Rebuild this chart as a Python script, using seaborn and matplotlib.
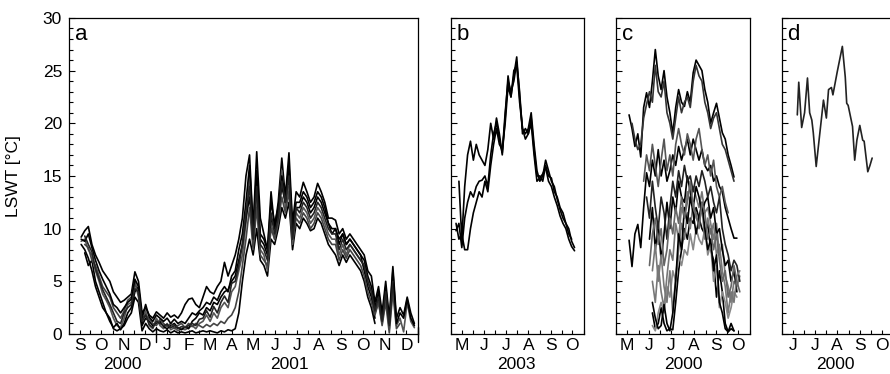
import numpy as np
import pandas as pd
import matplotlib
matplotlib.use("Agg")
import matplotlib.pyplot as plt
import matplotlib.dates as mdates
from matplotlib.ticker import MultipleLocator, FuncFormatter
import seaborn as sns

sns.set_style("ticks")
plt.rcParams['font.family'] = ['Liberation Sans', 'DejaVu Sans']
plt.rcParams['text.color'] = 'black'
plt.rcParams['xtick.color'] = 'black'
plt.rcParams['ytick.color'] = 'black'
plt.rcParams['axes.labelcolor'] = 'black'

nan = np.nan

# ---- panel a: Sep 2000 - Dec 2001, 5-day samples ----
a_dates = pd.date_range("2000-09-18", periods=94, freq="5D")
a_s1 = [9.2, 9.8, 10.2, 8.5, 7.5, 6.8, 6.0, 5.5, 5.0, 4.0,
        3.5, 3.0, 3.2, 3.5, 3.8, 5.9, 5.0, 2.0, 2.5, 1.8,
        1.5, 2.1, 1.8, 1.5, 2.0, 1.6, 1.8, 1.5, 2.0, 2.8,
        3.3, 3.4, 2.8, 2.5, 3.5, 4.5, 4.0, 3.8, 4.5, 5.0,
        6.8, 5.5, 6.5, 7.5, 9.0, 11.0, 15.0, 17.0, 10.0, 17.3,
        11.0, 9.5, 8.0, 13.5, 10.0, 12.5, 16.7, 13.0, 17.2, 10.5,
        13.5, 13.0, 14.4, 13.5, 12.5, 13.0, 14.3, 13.5, 12.5, 11.0,
        11.0, 10.8, 9.5, 10.0, 9.0, 9.5, 9.0, 8.5, 8.0, 7.5,
        6.0, 5.5, 3.0, 4.5, 2.0, 5.0, 1.5, 6.4, 1.5, 2.5,
        1.8, 3.5, 2.0, 1.0]
a_s2 = [nan, 7.7, 6.5, 7.0, 5.0, 4.0, 3.0, 2.0, 1.5, 0.5,
        0.3, 0.5, 0.8, 1.5, 2.0, 3.5, 3.0, 0.3, 1.0, 0.5,
        0.2, 0.5, 0.3, 0.2, 0.4, 0.1, 0.3, 0.1, 0.2, 0.1,
        0.2, 0.3, 0.1, 0.2, 0.3, 0.2, 0.3, 0.2, 0.1, 0.3,
        0.2, 0.4, 0.3, 0.5, 2.0, 5.0, 7.5, 9.0, 7.5, 10.0,
        7.0, 6.5, 5.5, 9.0, 8.5, 10.0, 12.0, 11.0, 12.5, 8.0,
        10.5, 10.0, 11.0, 10.5, 9.8, 10.0, 11.0, 10.5, 9.5, 8.5,
        8.0, 7.5, 6.5, 7.5, 6.8, 7.5, 7.0, 6.5, 6.0, 5.0,
        3.5, 2.5, 1.0, nan, nan, nan, nan, nan, nan, nan,
        nan, nan, nan, nan]
a_s3 = [8.8, 9.0, 8.0, 7.5, 6.0, 5.0, 3.8, 3.2, 2.5, 1.5,
        0.8, 0.6, 1.5, 2.8, 3.0, 4.8, 3.8, 1.0, 2.2, 0.8,
        0.5, 1.5, 0.8, 0.5, 1.0, 0.4, 0.6, 0.3, 0.5, 0.4,
        0.6, 0.8, 0.5, 1.0, 1.2, 1.8, 1.2, 2.0, 1.5, 2.5,
        3.0, 2.5, 4.0, 4.5, 6.0, 7.5, 10.5, 15.0, 8.5, 13.0,
        8.0, 7.5, 6.0, 10.5, 9.0, 11.5, 15.5, 12.0, 14.0, 8.5,
        11.5, 11.0, 12.0, 11.5, 10.5, 11.0, 12.0, 11.5, 10.5, 9.5,
        9.0, 9.0, 7.5, 8.5, 7.5, 8.5, 8.0, 7.5, 7.0, 6.5,
        5.0, 4.0, 2.0, 3.0, 1.0, 3.5, 0.5, 4.5, 0.8, 1.5,
        0.2, 3.0, 1.2, 0.6]
a_s4 = [8.5, 8.0, 7.2, 6.0, 4.5, 3.5, 2.5, 2.0, 1.2, 0.6,
        1.0, 0.4, 1.0, 2.0, 2.5, 4.0, 4.5, 0.8, 1.5, 1.2,
        0.8, 1.0, 1.2, 0.7, 0.5, 0.8, 1.0, 0.6, 0.4, 0.7,
        0.5, 1.2, 1.5, 2.0, 1.8, 2.5, 2.2, 3.0, 2.8, 3.5,
        4.0, 4.2, 5.0, 5.5, 7.0, 8.5, 11.0, 13.0, 9.5, 14.5,
        9.0, 8.5, 7.5, 11.0, 10.0, 11.5, 14.0, 12.5, 15.5, 9.5,
        12.0, 12.0, 13.0, 12.5, 11.5, 12.0, 13.0, 12.5, 11.5, 10.5,
        9.5, 10.0, 8.5, 9.5, 8.5, 9.0, 8.5, 8.0, 7.5, 6.0,
        4.5, 3.5, 1.5, nan, nan, nan, nan, nan, nan, nan,
        nan, nan, nan, nan]
a_s5 = [nan, 8.5, 8.2, 7.0, 6.5, 5.5, 4.5, 4.0, 3.5, 2.5,
        2.0, 1.5, 2.2, 3.2, 3.5, 5.0, 3.5, 1.5, 1.8, 1.4,
        1.0, 0.8, 1.4, 1.0, 0.7, 1.0, 0.5, 0.8, 1.0, 0.6,
        1.0, 0.7, 1.0, 0.8, 0.6, 0.9, 0.7, 1.0, 0.8, 1.2,
        1.0, 1.5, 1.8, 2.5, 4.0, 6.5, 9.0, 12.0, 8.0, 12.0,
        7.5, 7.0, 6.5, 10.0, 9.0, 10.5, 13.0, 11.5, 13.5, 9.0,
        11.0, 10.5, 11.5, 11.0, 10.0, 10.5, 11.5, 11.0, 10.0, 9.0,
        8.5, 8.5, 7.0, 8.0, 7.2, 8.0, 7.5, 7.0, 6.5, 5.5,
        4.0, 3.0, 1.8, 3.0, 0.8, 3.0, 0.1, 4.0, 0.5, 1.0,
        nan, nan, nan, nan]
a_s6 = [9.0, 8.8, 9.5, 8.2, 7.0, 6.0, 5.2, 4.5, 3.8, 2.8,
        2.5, 2.0, 2.5, 3.0, 3.3, 5.2, 4.5, 1.5, 2.8, 1.6,
        1.2, 1.8, 1.5, 1.2, 1.5, 1.0, 1.4, 1.0, 1.2, 1.0,
        1.5, 2.0, 1.8, 2.2, 2.5, 3.0, 2.8, 3.5, 3.2, 4.0,
        4.5, 4.0, 5.5, 6.0, 8.0, 9.5, 12.5, 16.0, 10.0, 15.5,
        9.5, 9.0, 8.0, 12.5, 10.5, 12.0, 15.0, 13.0, 16.0, 10.0,
        12.5, 12.5, 13.5, 13.0, 12.0, 12.5, 13.5, 13.0, 12.0, 10.5,
        10.0, 10.0, 9.0, 9.5, 8.5, 9.0, 8.5, 8.0, 7.5, 7.0,
        5.5, 4.5, 2.5, 4.0, 1.5, 4.5, 1.0, 6.0, 1.0, 2.0,
        1.5, 3.3, 1.5, 0.8]
a_s7 = [nan, 9.3, 8.5, 7.8, 6.2, 5.2, 4.2, 3.5, 2.8, 2.0,
        1.2, 1.0, 2.0, 2.5, 2.8, 4.3, 4.0, 1.2, 1.8, 0.9,
        0.6, 1.2, 1.0, 0.8, 0.9, 0.6, 0.8, 0.5, 0.7, 0.6,
        0.8, 1.0, 0.8, 1.4, 1.5, 2.2, 1.6, 2.6, 2.0, 3.0,
        3.6, 3.0, 4.8, 5.0, 6.5, 8.5, 11.5, 14.0, 9.0, 14.0,
        8.5, 8.0, 7.0, 11.5, 9.5, 11.0, 14.5, 12.5, 15.0, 9.0,
        12.0, 11.5, 12.5, 12.0, 11.0, 11.5, 12.5, 12.0, 11.0, 10.0,
        9.5, 9.5, 8.0, 9.0, 8.0, 8.5, 8.0, 7.5, 7.0, 6.5,
        5.0, 4.0, 2.2, 3.5, 1.2, 4.0, 0.8, 5.0, nan, nan,
        nan, nan, nan, nan]
a_year_ticks = ["2001-01-01", "2002-01-01"]

# ---- panel b: May - Oct 2003, 4-day samples ----
b_dates = pd.date_range("2003-05-08", periods=42, freq="4D")
b_s1 = [nan, 14.5, 9.0, 14.0, 17.0, 18.3, 16.5, 18.0, 17.0, 16.5,
        16.0, 17.5, 20.0, 18.5, 20.5, 19.0, 17.0, 20.5, 24.5, 22.5,
        24.5, 26.3, 22.5, 19.5, 19.0, 19.5, 21.0, 18.0, 15.5, 14.5,
        15.0, 16.5, 15.5, 14.5, 14.0, 12.8, 11.8, 11.0, 10.5, 10.0,
        8.8, 8.2]
b_s2 = [9.8, 10.5, 8.2, 11.0, 12.5, 13.5, 13.0, 14.0, 14.5, 14.6,
        15.0, 14.0, 17.0, 19.0, 20.0, 18.5, 17.2, 21.0, 24.0, 23.0,
        24.0, 25.8, 23.0, 19.0, 19.5, 19.0, 20.5, 17.5, 15.0, 15.0,
        14.5, 16.0, 15.0, 14.8, 13.5, 13.0, 12.0, 11.5, 10.5, 9.5,
        9.0, nan]
b_s3 = [10.5, 9.0, 9.5, 8.0, 8.0, 10.0, 11.5, 12.5, 13.5, 13.0,
        14.5, 13.5, 16.0, 18.0, 19.5, 18.0, 17.5, 20.0, 23.5, 22.5,
        25.0, 25.5, 22.0, 19.5, 18.5, 19.0, 20.0, 17.0, 14.5, 14.8,
        15.2, 15.8, 14.5, 14.0, 13.0, 12.2, 11.2, 10.5, 10.0, 9.0,
        8.3, 7.9]

# ---- panel c: May - Oct 2000, 4-day samples ----
c_dates = pd.date_range("2000-05-15", periods=40, freq="4D")
c_s1 = [nan, 20.8, 19.5, 17.8, 19.0, 16.8, 21.5, 22.9, 21.5, 24.0,
        27.0, 24.5, 23.2, 25.0, 22.5, 21.0, 19.0, 21.5, 23.2, 22.0,
        21.6, 23.0, 22.0, 24.8, 26.0, 25.5, 25.0, 23.2, 22.0, 20.0,
        21.0, 21.9, 20.5, 19.1, 18.5, 17.0, 16.0, 14.9, nan, nan]
c_s2 = [nan, nan, 20.0, 18.5, 17.5, 18.0, 20.5, 21.8, 23.0, 22.0,
        25.5, 23.0, 22.5, 24.0, 21.0, 20.0, 18.5, 20.5, 22.5, 21.0,
        22.0, 22.5, 21.5, 24.0, 25.5, 24.5, 24.0, 22.0, 21.0, 19.5,
        20.5, 21.0, 19.5, 18.0, 17.5, 16.5, 15.5, 14.5, nan, nan]
c_s3 = [nan, 8.9, 6.4, 9.5, 10.4, 8.2, 12.0, 15.3, 14.0, 16.5,
        15.0, 17.5, 15.0, 16.5, 14.5, 15.5, 17.0, 16.0, 17.8, 16.5,
        17.5, 18.5, 17.0, 18.5, 17.5, 16.5, 17.5, 16.0, 15.5, 16.0,
        14.5, 15.0, 14.0, 13.5, 12.0, 11.0, 10.0, 9.1, 9.1, nan]
c_s4 = [nan, nan, nan, nan, nan, nan, 14.5, 17.0, 15.5, 18.0,
        16.0, 14.0, 16.5, 18.5, 15.5, 17.0, 15.0, 18.0, 19.5, 18.0,
        17.0, 19.0, 18.0, 16.5, 18.5, 19.5, 17.5, 16.0, 17.0, 15.0,
        16.5, 14.0, 13.0, 14.0, 12.5, 11.5, nan, nan, nan, nan]
c_s5 = [nan, nan, nan, nan, nan, nan, nan, nan, nan, 2.0,
        0.5, 1.0, 2.5, 1.0, 0.3, 0.5, 0.4, 3.0, 6.0, 8.0,
        10.0, 9.0, 11.0, 10.5, 12.0, 11.0, 10.0, 9.5, 10.5, 8.0,
        7.0, 3.5, 6.0, 4.0, 1.0, 0.2, 0.5, 0.3, nan, nan]
c_s6 = [nan, nan, nan, nan, nan, nan, nan, nan, nan, 5.0,
        3.0, 6.5, 4.0, 2.5, 5.5, 8.0, 7.0, 10.5, 9.0, 12.0,
        11.0, 13.5, 12.5, 14.0, 13.0, 12.0, 13.5, 11.5, 12.0, 10.5,
        9.0, 10.5, 7.5, 8.5, 5.5, 4.5, 3.0, 5.0, 4.5, 5.5]
c_s7 = [nan, nan, nan, nan, nan, nan, nan, nan, 9.0, 12.0,
        8.0, 10.5, 7.0, 9.5, 12.5, 10.0, 13.0, 11.5, 14.5, 13.0,
        12.5, 15.0, 13.5, 12.0, 14.0, 13.0, 11.5, 12.5, 13.0, 11.0,
        12.0, 9.5, 10.0, 8.0, 6.5, 7.0, 5.0, 6.0, 4.0, nan]
c_s8 = [nan, nan, nan, nan, nan, nan, nan, nan, nan, 0.8,
        0.3, 2.0, 3.0, 2.0, 4.5, 3.5, 6.0, 5.0, 7.5, 6.5,
        8.0, 7.5, 9.5, 8.0, 10.0, 9.0, 8.5, 10.0, 7.5, 8.5,
        5.0, 6.5, 2.5, 4.0, 3.0, 1.5, 2.5, 4.0, 3.5, nan]
c_s9 = [nan, nan, nan, nan, nan, nan, nan, 13.0, 11.0, 14.5,
        12.0, 10.0, 13.0, 11.5, 9.0, 12.0, 14.5, 13.0, 15.5, 14.0,
        16.0, 14.5, 15.0, 13.5, 15.0, 14.0, 15.5, 14.5, 13.0, 14.0,
        12.5, 11.5, 13.0, 10.0, 8.5, 7.5, 6.0, 7.0, 6.5, 5.0]
c_s10 = [nan, nan, nan, nan, nan, nan, nan, nan, nan, 6.0,
         8.5, 5.0, 7.5, 4.5, 3.0, 6.0, 2.0, 5.5, 8.0, 10.5,
         9.0, 11.5, 10.0, 12.5, 11.0, 10.5, 12.0, 9.0, 11.0, 9.5,
         10.5, 7.5, 8.5, 6.0, 4.5, 2.0, 4.0, 3.0, 5.5, 6.0]
c_s11 = [nan, nan, nan, nan, nan, nan, nan, nan, nan, 3.0,
         1.5, 0.5, 0.8, 2.8, 1.0, 0.3, 2.0, 5.0, 9.5, 8.0,
         12.0, 10.5, 13.0, 11.5, 9.5, 11.0, 12.5, 10.0, 8.0, 9.0,
         6.0, 7.5, 3.0, 2.0, 0.5, 0.2, 1.0, 0.3, nan, nan]
c_s12 = [nan, nan, nan, nan, nan, nan, nan, nan, 6.5, 9.5,
         11.0, 8.5, 10.0, 6.5, 8.0, 11.0, 9.5, 12.0, 10.5, 13.0,
         11.0, 12.5, 14.5, 12.0, 11.5, 10.0, 12.5, 11.5, 9.0, 10.0,
         8.0, 9.5, 7.0, 5.0, 6.0, 3.5, 4.5, 6.5, 5.0, 4.0]

# ---- panel d: single record 2000 ----
d_dates = pd.to_datetime([
    "2000-06-22", "2000-06-24", "2000-06-28", "2000-07-02", "2000-07-06",
    "2000-07-09", "2000-07-12", "2000-07-14", "2000-07-18", "2000-07-21",
    "2000-07-25", "2000-07-28", "2000-08-01", "2000-08-04", "2000-08-08",
    "2000-08-10", "2000-08-16", "2000-08-23", "2000-08-27", "2000-08-29",
    "2000-08-31", "2000-09-06", "2000-09-09", "2000-09-12", "2000-09-16",
    "2000-09-20", "2000-09-22", "2000-09-27", "2000-09-30", "2000-10-03"])
d_vals = [20.8, 23.9, 19.6, 21.0, 24.3, 21.0, 20.3, 19.1, 15.9, 17.8,
          20.3, 22.2, 20.5, 23.2, 23.4, 22.7, 24.9, 27.3, 24.4, 21.9,
          21.7, 19.7, 16.5, 18.4, 19.8, 18.4, 18.3, 15.4, 16.0, 16.7]


def month_letter(x, pos):
    return mdates.num2date(x).strftime("%b")[0]


def style_panel(ax, start, end, letter, years, year_ticks=()):
    ax.set_xlim(pd.Timestamp(start), pd.Timestamp(end))
    ax.set_ylim(0, 30)
    ax.xaxis.set_major_locator(mdates.MonthLocator(bymonthday=16))
    ax.xaxis.set_major_formatter(FuncFormatter(month_letter))
    ax.xaxis.set_minor_locator(mdates.MonthLocator(bymonthday=1))
    ax.yaxis.set_major_locator(MultipleLocator(5))
    ax.yaxis.set_minor_locator(MultipleLocator(1))
    ax.tick_params(which="both", direction="in", length=3, width=0.8,
                   top=False, right=False)
    ax.tick_params(axis="x", which="major", labelsize=12.5, pad=3)
    ax.tick_params(axis="y", which="major", labelsize=12.5, length=4, pad=5)
    for sp in ax.spines.values():
        sp.set_visible(True)
        sp.set_linewidth(0.9)
        sp.set_color("black")
    ax.set_xlabel("")
    ax.set_ylabel("")
    ax.annotate(letter, xy=(0, 1), xycoords="axes fraction", xytext=(4, -4),
                textcoords="offset points", ha="left", va="top", fontsize=16)
    for ylab, ydate in years:
        ax.text(mdates.date2num(pd.Timestamp(ydate)), -0.097, ylab,
                transform=ax.get_xaxis_transform(), ha="center", va="center",
                fontsize=12.5)
    # longer tick across the axis at each year boundary
    for t in year_ticks:
        ax.axvline(pd.Timestamp(t), ymin=-0.025, ymax=0.022, color="black",
                   lw=1.0, clip_on=False)


fig = plt.figure(figsize=(8.9, 3.74), dpi=100)
bottom, height = 0.107, 0.845
ax_a = fig.add_axes([0.0775, bottom, 0.3921, height])
ax_b = fig.add_axes([0.5067, bottom, 0.1494, height])
ax_c = fig.add_axes([0.6921, bottom, 0.1506, height])
ax_d = fig.add_axes([0.8787, bottom, 0.1494, height])

lw = 1.2
for vals, col in [(a_s1, "black"), (a_s2, "black"), (a_s3, "#555555"),
                  (a_s4, "black"), (a_s5, "#444444"), (a_s6, "black"),
                  (a_s7, "#222222")]:
    sns.lineplot(x=a_dates, y=vals, color=col, lw=lw, ax=ax_a)

for vals in [b_s1, b_s2, b_s3]:
    sns.lineplot(x=b_dates, y=vals, color="black", lw=lw, ax=ax_b)

for vals, col in [(c_s1, "black"), (c_s2, "#333333"), (c_s3, "black"),
                  (c_s4, "#555555"), (c_s5, "black"), (c_s6, "#777777"),
                  (c_s7, "black"), (c_s8, "#888888"), (c_s9, "#222222"),
                  (c_s10, "#777777"), (c_s11, "black"), (c_s12, "#666666")]:
    sns.lineplot(x=c_dates, y=vals, color=col, lw=lw, ax=ax_c)

sns.lineplot(x=d_dates, y=d_vals, color="#222222", lw=lw, ax=ax_d)

style_panel(ax_a, "2000-09-01", "2002-01-01", "a",
            [("2000", "2000-11-15"), ("2001", "2001-07-05")],
            year_ticks=a_year_ticks)
style_panel(ax_b, "2003-05-01", "2003-11-01", "b", [("2003", "2003-07-31")])
style_panel(ax_c, "2000-05-01", "2000-11-01", "c", [("2000", "2000-08-01")])
style_panel(ax_d, "2000-06-01", "2000-12-01", "d", [("2000", "2000-08-13")])

ax_a.set_ylabel("LSWT [°C]", fontsize=12.5)
ax_a.yaxis.set_label_coords(-0.137, 0.5)
for ax in (ax_b, ax_c, ax_d):
    ax.tick_params(axis="y", labelleft=False)

plt.savefig("out.png", dpi=100)
